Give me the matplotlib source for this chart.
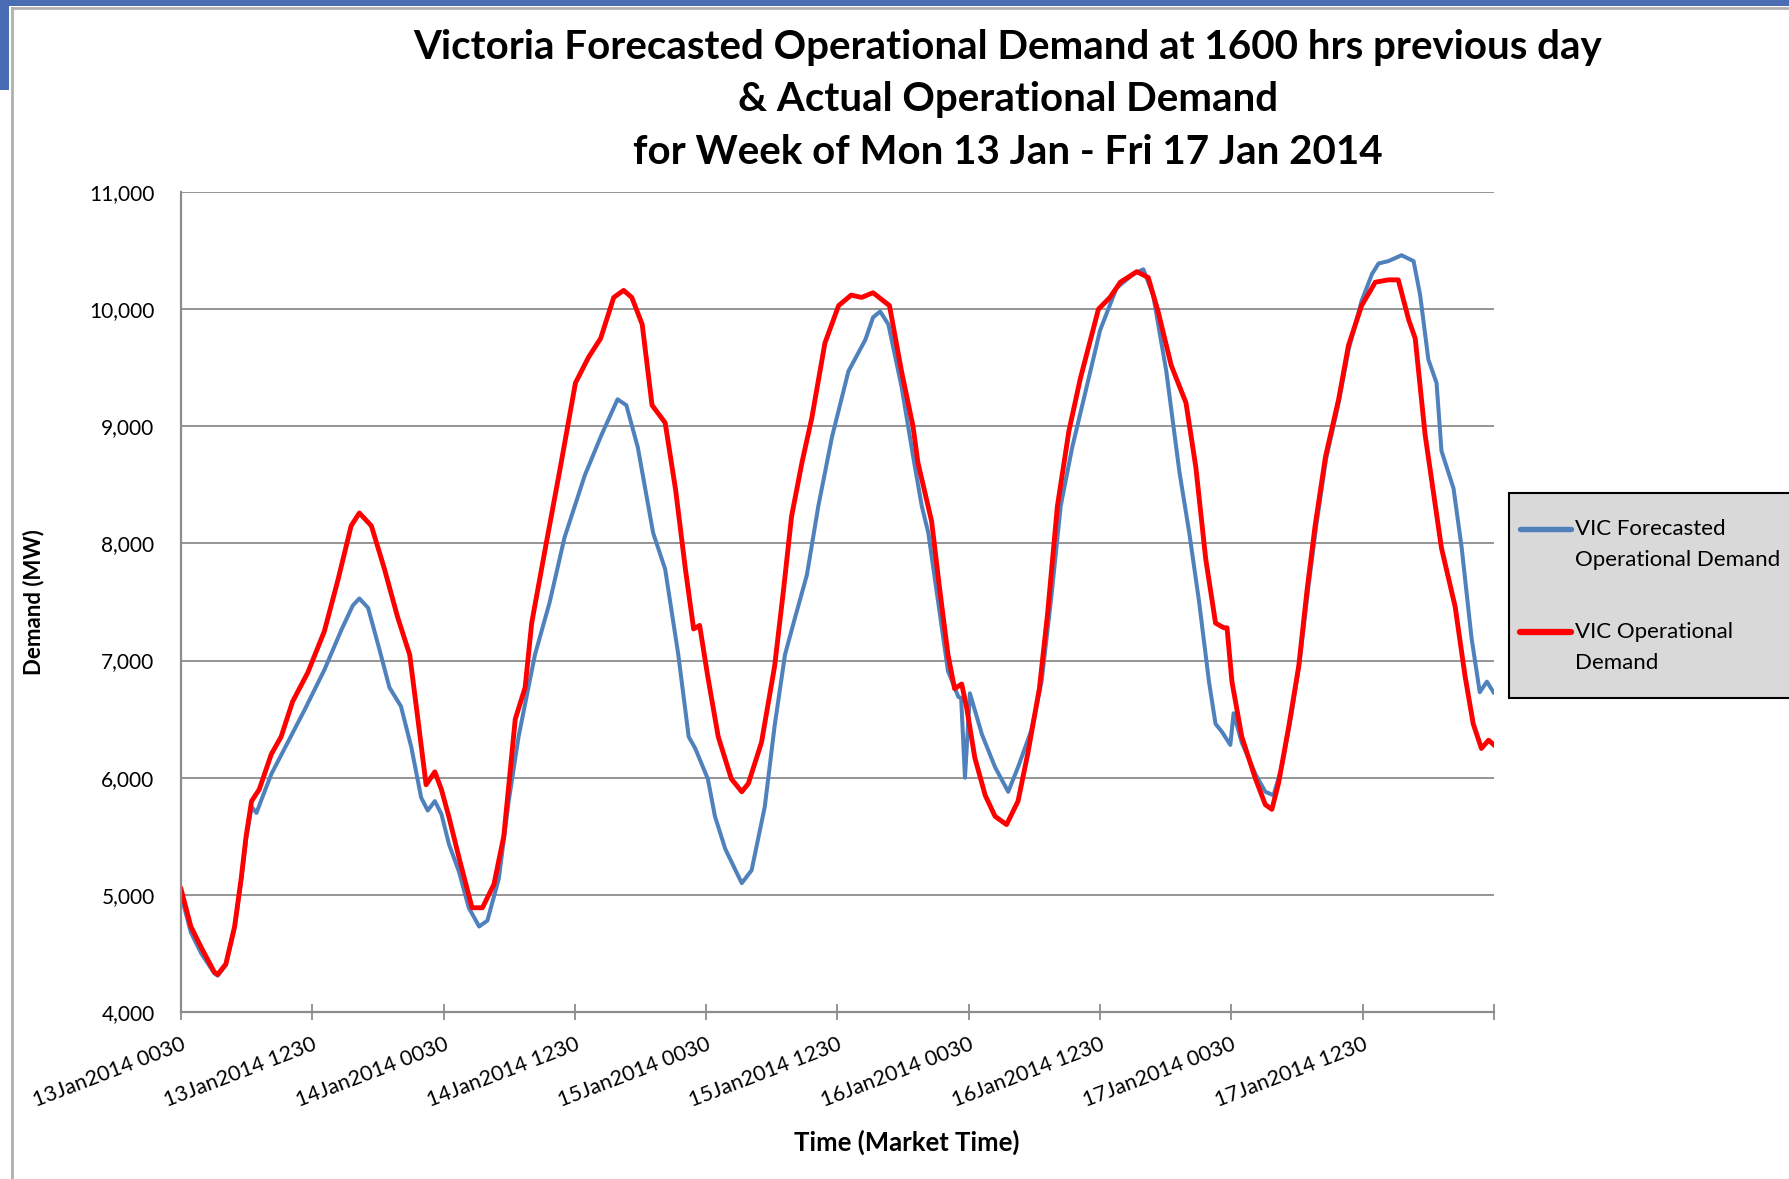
import matplotlib

matplotlib.use("Agg")
import matplotlib.pyplot as plt  # noqa: E402
from matplotlib.patches import Rectangle  # noqa: E402
from matplotlib.lines import Line2D  # noqa: E402
from matplotlib.ticker import FuncFormatter  # noqa: E402

plt.rcParams["font.family"] = ["Lato", "DejaVu Sans"]

W, H = 1790, 1179

# time axis in half-hour intervals from 13Jan2014 0030
tick_pos = [0, 24, 48, 72, 96, 120, 144, 168, 192, 216, 240]
tick_labels = ["13Jan2014 0030", "13Jan2014 1230", "14Jan2014 0030",
               "14Jan2014 1230", "15Jan2014 0030", "15Jan2014 1230",
               "16Jan2014 0030", "16Jan2014 1230", "17Jan2014 0030",
               "17Jan2014 1230", ""]

# VIC Operational Demand (actual), MW
actual_t = [0, 1.8, 3.7, 6.1, 6.7, 8.2, 9.8, 11, 11.9, 12.9, 14.3, 16.5,
            18.3, 20.4, 23.2, 26.2, 28.7, 31.1, 32.6, 34.8, 37.2, 39.6,
            41.8, 43.3, 44.8, 46.4, 47.6, 49, 50.8, 53.2, 55.1, 57.2, 59,
            61.1, 62.9, 64.1, 66.6, 69.3, 72.1, 74.5, 76.7, 79.1, 80.9,
            82.4, 84.3, 86.1, 88.5, 90.4, 92.2, 93.7, 94.8, 96.3, 98.2,
            100.6, 102.5, 103.7, 106.1, 108.5, 110.1, 111.6, 113.5, 115.3,
            117.7, 120.2, 122.5, 124.4, 126.5, 129.5, 131.7, 133.8, 134.7,
            137.2, 138.7, 140.2, 141.4, 142.7, 143.6, 145.1, 147, 148.8,
            150.9, 153, 154.8, 156.9, 158.4, 160.2, 162.3, 164.4, 167.7,
            169.8, 171.7, 174.7, 176.8, 178.6, 181, 183.7, 185.5, 187.3,
            189.1, 190.6, 191.2, 192.1, 193.9, 196.4, 198.2, 199.4, 200.6,
            202.5, 204.3, 205.8, 207.3, 209.2, 211.6, 213.4, 215.8, 218.3,
            220.7, 222.5, 224.4, 225.6, 227.4, 230.4, 232.9, 234.7, 236.2,
            237.7, 239, 240]
actual_mw = [5050, 4730, 4550, 4340, 4320, 4410, 4730, 5140, 5500, 5800,
             5900, 6200, 6350, 6650, 6900, 7250, 7690, 8150, 8260, 8150,
             7780, 7370, 7050, 6500, 5940, 6050, 5900, 5660, 5320, 4890,
             4890, 5090, 5500, 6500, 6770, 7320, 7960, 8640, 9370, 9590,
             9750, 10100, 10160, 10100, 9870, 9180, 9030, 8460, 7780, 7270,
             7300, 6860, 6350, 5990, 5880, 5950, 6300, 6950, 7590, 8230,
             8690, 9070, 9710, 10030, 10120, 10100, 10140, 10030, 9470,
             9000, 8690, 8190, 7600, 7050, 6760, 6800, 6600, 6170, 5850,
             5670, 5600, 5800, 6210, 6760, 7400, 8320, 8960, 9410, 10000,
             10100, 10230, 10320, 10270, 9980, 9520, 9200, 8650, 7870, 7320,
             7280, 7280, 6820, 6350, 5990, 5770, 5730, 5950, 6440, 6950,
             7590, 8150, 8740, 9230, 9690, 10030, 10230, 10250, 10250, 9910,
             9750, 8930, 7960, 7460, 6870, 6460, 6250, 6320, 6280]

# VIC Forecasted Operational Demand (1600 hrs previous day), MW
fcst_t = [0, 1.8, 3.7, 6.1, 6.7, 8.2, 9.8, 11, 11.9, 12.9, 13.8, 14.6, 16.5,
          19.5, 22.6, 26.2, 29.3, 31.4, 32.6, 34.2, 36.3, 38.1, 40.2, 42.1,
          43.9, 45.1, 46.4, 47.6, 49, 50.8, 52.6, 54.5, 56, 58.1, 59.9, 61.7,
          64.7, 67.4, 70.1, 73.8, 76.8, 79.8, 81.4, 83.5, 86.3, 88.5, 90.9,
          92.8, 94, 96.3, 97.6, 99.5, 102.5, 104.3, 106.7, 108.5, 110.4,
          112.2, 114.4, 116.5, 119, 122, 125.1, 126.5, 127.8, 129.3, 131.7,
          133.8, 135.4, 136.6, 138.4, 140.2, 142.1, 142.6, 143.3, 144.2,
          146.4, 148.8, 151.2, 153, 155.4, 157.3, 159.1, 160.8, 162.9, 165,
          168, 171, 174.1, 175.9, 177.7, 180.1, 182.5, 184.3, 186.1, 187.9,
          189.1, 190.3, 191.8, 192.4, 193.9, 196.4, 198.2, 199.7, 201.2, 203,
          204.5, 206, 207.5, 209.3, 211.6, 213.4, 215.8, 217.7, 218.9, 220.7,
          223.1, 225.3, 226.5, 228, 229.5, 230.4, 232.6, 234.1, 235.9, 237.4,
          238.7, 239.9]
fcst_mw = [5000, 4680, 4500, 4330, 4310, 4400, 4720, 5120, 5480, 5750, 5700,
           5800, 6030, 6300, 6580, 6920, 7260, 7470, 7530, 7450, 7090, 6770,
           6610, 6260, 5830, 5720, 5800, 5690, 5430, 5200, 4890, 4730, 4780,
           5140, 5800, 6350, 7050, 7500, 8050, 8580, 8920, 9230, 9180, 8820,
           8090, 7780, 7050, 6350, 6250, 5990, 5670, 5390, 5100, 5210, 5750,
           6440, 7050, 7360, 7730, 8320, 8910, 9470, 9740, 9930, 9980, 9870,
           9340, 8750, 8320, 8090, 7500, 6910, 6690, 6680, 6000, 6720, 6370,
           6090, 5880, 6090, 6400, 6820, 7550, 8320, 8820, 9230, 9820, 10180,
           10300, 10340, 10120, 9470, 8610, 8090, 7500, 6820, 6460, 6390,
           6280, 6550, 6300, 6030, 5880, 5850, 6090, 6550, 7000, 7600, 8150,
           8720, 9200, 9650, 10070, 10300, 10390, 10410, 10460, 10410, 10120,
           9570, 9370, 8790, 8470, 7960, 7190, 6730, 6820, 6730]

BLUE = "#4f81bd"
RED = "#ff0000"
GRID = "#8c8c8c"


def fx(px):
    return px / W


def fy(py):
    return 1 - py / H


fig = plt.figure(figsize=(W / 100, H / 100), dpi=100)

# screenshot frame bits
fig.add_artist(Rectangle((0, fy(6)), 1, fy(0) - fy(6), transform=fig.transFigure,
                         color="#4a6cb3", lw=0))
fig.add_artist(Rectangle((0, fy(90)), fx(9), fy(0) - fy(90),
                         transform=fig.transFigure, color="#4a6cb3", lw=0))
fig.add_artist(Line2D([fx(12), fx(12)], [0, fy(8)], transform=fig.transFigure,
                      color="#b0b0b0", lw=2))
fig.add_artist(Line2D([fx(12), 1], [fy(8), fy(8)], transform=fig.transFigure,
                      color="#b0b0b0", lw=2))

ax = fig.add_axes([fx(181), fy(1012), fx(1494) - fx(181), fy(192) - fy(1012)])
ax.plot(fcst_t, fcst_mw, color=BLUE, lw=2.9, solid_joinstyle="round")
ax.plot(actual_t, actual_mw, color=RED, lw=3.5, solid_joinstyle="round")

ax.set_xlim(0, 240)
ax.set_ylim(4000, 11000)
ax.set_yticks(range(4000, 11001, 1000))
ax.yaxis.set_major_formatter(FuncFormatter(lambda v, p: f"{int(v):,}"))
ax.yaxis.grid(True, color=GRID, lw=1.3)
ax.set_axisbelow(True)
ax.tick_params(axis="y", length=0, pad=19, labelsize=15)
ax.set_xticks(tick_pos)
ax.set_xticklabels(tick_labels, rotation=21, ha="right", rotation_mode="anchor",
                   fontsize=15.5)
ax.tick_params(axis="x", direction="inout", length=12, width=1.3, color=GRID,
               pad=10)
for side in ("top", "right"):
    ax.spines[side].set_visible(False)
for side in ("left", "bottom"):
    ax.spines[side].set_color(GRID)
    ax.spines[side].set_linewidth(1.6)

fig.text(fx(34), fy(602), "Demand (MW)", rotation=90, ha="center", va="center",
         fontsize=16, fontweight="bold")
fig.text(fx(907), fy(1142), "Time (Market Time)", ha="center", va="center",
         fontsize=18.5, fontweight="bold")

titles = ["Victoria Forecasted Operational Demand at 1600 hrs previous day",
          "& Actual Operational Demand",
          "for Week of Mon 13 Jan - Fri 17 Jan 2014"]
for line, py in zip(titles, [47, 100, 153]):
    fig.text(fx(1008), fy(py), line, ha="center", va="center", fontsize=29,
             fontweight="bold", color="black")

# legend box drawn on the figure
fig.add_artist(Rectangle((fx(1509), fy(698)), fx(300), fy(493) - fy(698),
                         transform=fig.transFigure, facecolor="#d9d9d9",
                         edgecolor="black", lw=1.5))
legend_items = [(BLUE, 2.9, "VIC Forecasted", "Operational Demand", 529),
                (RED, 3.5, "VIC Operational", "Demand", 632)]
for col, lw, l1, l2, py in legend_items:
    fig.add_artist(Line2D([fx(1520), fx(1571)], [fy(py), fy(py)],
                          transform=fig.transFigure, color=col, lw=lw + 1,
                          solid_capstyle="round"))
    fig.text(fx(1575), fy(py), l1, ha="left", va="center", fontsize=16)
    fig.text(fx(1575), fy(py + 31), l2, ha="left", va="center", fontsize=16)

fig.savefig("out.png", dpi=100)
plt.close(fig)
